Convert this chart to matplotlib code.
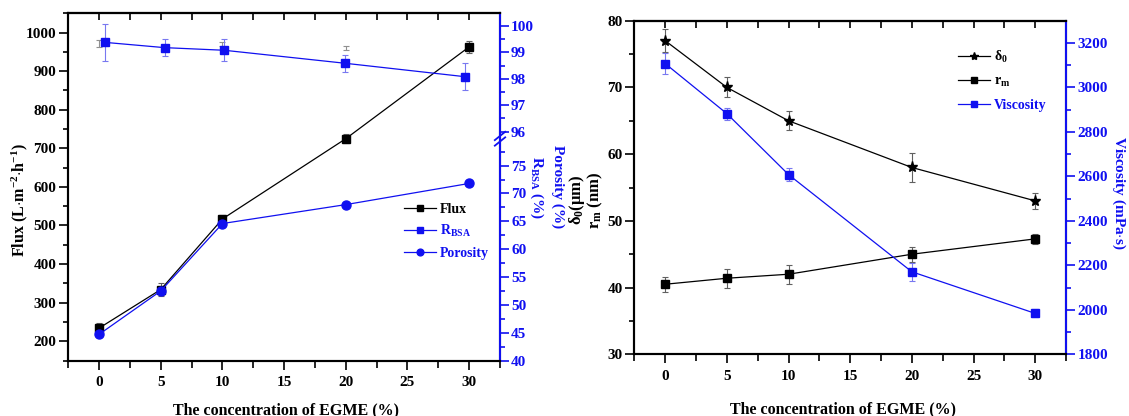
import numpy as np
import matplotlib
matplotlib.use('Agg')
import matplotlib.pyplot as plt
from matplotlib.lines import Line2D

plt.rcParams['font.family'] = ['Liberation Serif', 'DejaVu Serif']
plt.rcParams['font.weight'] = 'bold'
plt.rcParams['mathtext.fontset'] = 'custom'
plt.rcParams['mathtext.rm'] = 'Liberation Serif:bold'
plt.rcParams['mathtext.it'] = 'Liberation Serif:bold'
plt.rcParams['mathtext.bf'] = 'Liberation Serif:bold'
plt.rcParams['mathtext.default'] = 'rm'

# EGME concentration (%)
conc = [0, 5, 10, 20, 30]

# membrane performance
flux = [234, 334, 517, 725, 963]
flux_err = [13, 17, 10, 11, 15]
flux_rep = [972, 970, 960]          # stray replicate bars (x = 0, 10, 20)
flux_rep_x = [0, 10, 20]
flux_rep_err = [10, 6, 5]
rbsa_x = [0.45, 5.3, 10.15, 19.9, 29.65]
rbsa = [99.38, 99.18, 99.08, 98.59, 98.08]
rbsa_err = [0.71, 0.32, 0.41, 0.32, 0.52]
porosity = [44.7, 52.5, 64.6, 68.0, 71.8]

# structure / casting solution
delta0 = [77.0, 70.0, 65.0, 58.0, 53.0]
delta0_err = [1.75, 1.5, 1.4, 2.2, 1.2]
rm = [40.5, 41.4, 42.0, 45.0, 47.3]
rm_err = [1.15, 1.45, 1.4, 1.1, 0.8]
visc = [3107, 2882, 2608, 2171, 1984]
visc_err = [46, 27, 28, 40, 18]

BLUE = '#1010f0'
EBLUE = '#7878f0'
EGRAY = '#606060'
TICK = 11
LAB = 11.5
LEG = 10

W, H = 1129, 416
fig = plt.figure(figsize=(W / 100, H / 100), dpi=100)


def box(l, t, r, b):
    return [l / W, 1 - b / H, (r - l) / W, (b - t) / H]


def style_axis(a):
    a.tick_params(axis='both', which='major', direction='out', length=6.5, width=1.2,
                  labelsize=TICK, pad=2)
    a.tick_params(axis='both', which='minor', direction='out', length=3.5, width=1.2)
    a.tick_params(axis='x', which='major', pad=5)
    a.tick_params(axis='x', which='minor', length=5)
    for s in a.spines.values():
        s.set_linewidth(1.5)


def top_ticks(a):
    sec = a.secondary_xaxis('top')
    sec.set_xticks(range(0, 31, 5))
    sec.set_xticks(np.arange(-2.5, 33, 5), minor=True)
    sec.tick_params(axis='x', which='both', direction='in', length=5, width=1.2)
    sec.set_xticklabels([])
    sec.spines['top'].set_linewidth(1.5)


def legend(a, handles, labels, colors, anchor, spacing):
    leg = a.legend(handles, labels, loc='upper left', bbox_to_anchor=anchor,
                   frameon=False, fontsize=LEG, handlelength=2.3, handletextpad=0.3,
                   labelspacing=spacing, borderpad=0, borderaxespad=0, markerscale=0.75)
    for t, c in zip(leg.get_texts(), colors):
        t.set_color(c)


# ---------- left panel: flux, R_BSA, porosity ----------
ax = fig.add_axes(box(68.3, 13.3, 500, 360.5))
ax2 = ax.twinx()

# broken right axis: 40-80 below, 95.8-100.5 above
lo_a, lo_b, hi_a, hi_b = 40.0, 80.0, 95.8, 100.5
lo_k, hi_k = 5.566, 26.4
seg_v = [lo_a, lo_b, hi_a, hi_b]
seg_p = [0.0, (lo_b - lo_a) * lo_k]
seg_p += [seg_p[1] + 0.9, seg_p[1] + 0.9 + (hi_b - hi_a) * hi_k]


def fwd(v):
    v = np.asarray(v, float)
    out = np.interp(v, seg_v, seg_p)
    out = np.where(v < seg_v[0], (v - seg_v[0]) * lo_k, out)
    return np.where(v > seg_v[-1], seg_p[-1] + (v - seg_v[-1]) * hi_k, out)


def inv(p):
    p = np.asarray(p, float)
    out = np.interp(p, seg_p, seg_v)
    out = np.where(p < seg_p[0], seg_v[0] + p / lo_k, out)
    return np.where(p > seg_p[-1], seg_v[-1] + (p - seg_p[-1]) / hi_k, out)


ax2.set_yscale('function', functions=(fwd, inv))

ax.errorbar(flux_rep_x, flux_rep, yerr=flux_rep_err, fmt='none', ecolor='#909090',
            elinewidth=0.8, capsize=2.5, capthick=0.8)
ax.errorbar(conc, flux, yerr=flux_err, fmt='none', ecolor=EGRAY, elinewidth=0.8,
            capsize=2.5, capthick=0.8)
ax.plot(conc, flux, color='black', lw=0.9, marker='s', ms=5.5)

ax2.errorbar(rbsa_x, rbsa, yerr=rbsa_err, fmt='none', ecolor=EBLUE, elinewidth=0.8,
             capsize=2.5, capthick=0.8)
ax2.plot(rbsa_x, rbsa, color=BLUE, lw=0.9, marker='s', ms=6)
ax2.plot(conc, porosity, color=BLUE, lw=0.9, marker='o', ms=6.5)

ax.set_xlim(-2.5, 32.5)
ax.set_xticks(range(0, 31, 5))
ax.set_xticks(np.arange(-2.5, 33, 5), minor=True)
ax.set_ylim(150, 1050)
ax.set_yticks(range(200, 1001, 100))
ax.set_yticks(range(150, 1051, 100), minor=True)
style_axis(ax)

ax2.set_ylim(40, 100.48)
r_major = list(range(40, 76, 5)) + [96, 97, 98, 99, 100]
r_minor = list(np.arange(42.5, 78, 5)) + [96.5, 97.5, 98.5, 99.5]
ax2.set_yticks(r_major, labels=[str(v) for v in r_major])
ax2.set_yticks(r_minor, minor=True)
ax2.yaxis.set_minor_formatter(plt.NullFormatter())
style_axis(ax2)
ax2.tick_params(axis='y', which='both', colors=BLUE, pad=1.5)
ax2.spines['right'].set_color(BLUE)
top_ticks(ax)

# break marks on the right spine
span = fwd(100.48) - fwd(40)
fb = (seg_p[1] + 0.45) / span
for dy in (-0.012, 0.004):
    ax2.plot([0.988, 1.012], [fb + dy - 0.012, fb + dy + 0.012], transform=ax2.transAxes,
             color=BLUE, lw=1.3, clip_on=False)

legend(ax2,
       [Line2D([], [], color='black', lw=0.9, marker='s', ms=5.5),
        Line2D([], [], color=BLUE, lw=0.9, marker='s', ms=6),
        Line2D([], [], color=BLUE, lw=0.9, marker='o', ms=6.5)],
       ['Flux', r'R$_{\mathrm{BSA}}$', 'Porosity'], ['black', BLUE, BLUE],
       (0.778, 0.455), 0.55)

fig.text(20 / W, 1 - 200 / H, r'Flux (L$\cdot$m$^{-2}$$\cdot$h$^{-1}$)', rotation=90,
         ha='center', va='center', fontsize=LAB)
fig.text(537 / W, 1 - 187 / H, r'R$_{\mathrm{BSA}}$ (%)', rotation=270, ha='center',
         va='center', fontsize=11, color=BLUE)
fig.text(558 / W, 1 - 187 / H, 'Porosity (%)', rotation=270, ha='center', va='center',
         fontsize=11, color=BLUE)
fig.text(286 / W, 1 - 410 / H, 'The concentration of EGME (%)', ha='center',
         va='center', fontsize=LAB)

# ---------- right panel: delta0, r_m, viscosity ----------
bx = fig.add_axes(box(634.4, 20.7, 1066, 354.3))
bx2 = bx.twinx()

bx.errorbar(conc, delta0, yerr=delta0_err, fmt='none', ecolor=EGRAY, elinewidth=0.8,
            capsize=2.5, capthick=0.8)
bx.plot(conc, delta0, color='black', lw=0.9, marker='*', ms=8)
bx.errorbar(conc, rm, yerr=rm_err, fmt='none', ecolor=EGRAY, elinewidth=0.8,
            capsize=2.5, capthick=0.8)
bx.plot(conc, rm, color='black', lw=0.9, marker='s', ms=5.5)
bx2.errorbar(conc, visc, yerr=visc_err, fmt='none', ecolor=EBLUE, elinewidth=0.8,
             capsize=2.5, capthick=0.8)
bx2.plot(conc, visc, color=BLUE, lw=0.9, marker='s', ms=5.5)

bx.set_xlim(-2.5, 32.5)
bx.set_xticks(range(0, 31, 5))
bx.set_xticks(np.arange(-2.5, 33, 5), minor=True)
bx.set_ylim(30, 80)
bx.set_yticks(range(30, 81, 10))
bx.set_yticks(range(35, 80, 10), minor=True)
style_axis(bx)

bx2.set_ylim(1800, 3300)
bx2.set_yticks(range(1800, 3201, 200))
bx2.set_yticks(range(1900, 3300, 200), minor=True)
style_axis(bx2)
bx2.tick_params(axis='y', which='both', colors=BLUE)
bx2.spines['right'].set_color(BLUE)
top_ticks(bx)

legend(bx2,
       [Line2D([], [], color='black', lw=0.9, marker='*', ms=8),
        Line2D([], [], color='black', lw=0.9, marker='s', ms=5.5),
        Line2D([], [], color=BLUE, lw=0.9, marker='s', ms=5.5)],
       [r'$\delta_{0}$', r'r$_{\mathrm{m}}$', 'Viscosity'], ['black', 'black', BLUE],
       (0.75, 0.915), 0.7)

fig.text(577 / W, 1 - 200 / H, r'$\delta_{0}$($\mu$m)', rotation=90, ha='center',
         va='center', fontsize=12)
fig.text(595 / W, 1 - 200 / H, r'r$_{\mathrm{m}}$ (nm)', rotation=90, ha='center',
         va='center', fontsize=12)
fig.text(1119 / W, 1 - 193 / H, r'Viscosity (mPa$\cdot$s)', rotation=270, ha='center',
         va='center', fontsize=11, color=BLUE)
fig.text(843 / W, 1 - 409 / H, 'The concentration of EGME (%)', ha='center',
         va='center', fontsize=LAB)

fig.savefig('out.png', dpi=100)
